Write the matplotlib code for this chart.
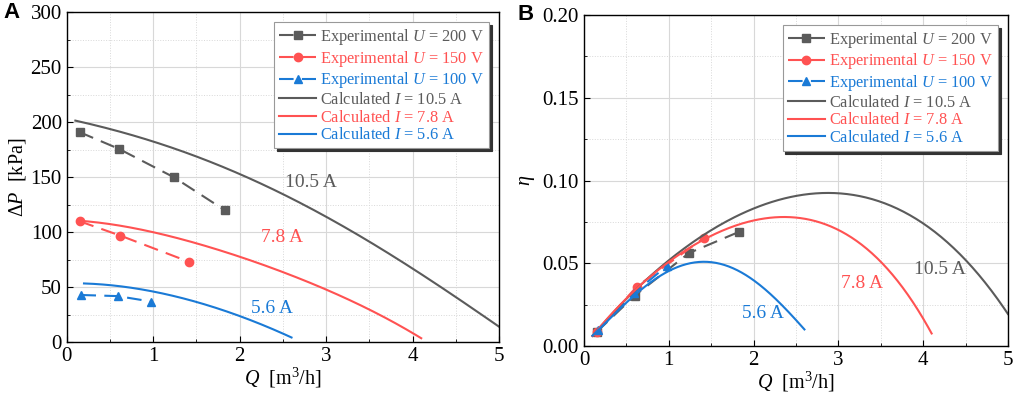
import numpy as np
import matplotlib
matplotlib.use('Agg')
import matplotlib.pyplot as plt
from matplotlib.ticker import MultipleLocator

plt.rcParams['font.family'] = ['Liberation Serif', 'DejaVu Serif']
plt.rcParams['mathtext.fontset'] = 'custom'
plt.rcParams['mathtext.rm'] = 'Liberation Serif'
plt.rcParams['mathtext.it'] = 'Liberation Serif:italic'

GRAY = '#5b5b5b'
RED = '#ff5252'
BLUE = '#1a7ad6'

# experimental points
exp_q_200 = [0.15, 0.60, 1.24, 1.83]
exp_dp_200 = [191, 176, 150, 120]
exp_eta_200 = [0.0085, 0.0305, 0.0562, 0.069]

exp_q_150 = [0.15, 0.62, 1.42]
exp_dp_150 = [110, 97, 73]
exp_eta_150 = [0.0085, 0.0358, 0.0655]

exp_q_100 = [0.17, 0.59, 0.98]
exp_dp_100 = [43, 42, 37]
exp_eta_100 = [0.0095, 0.032, 0.0485]

# calculated curves, pressure
calc_q_105 = [0.1, 0.5, 1.0, 1.5, 2.0, 2.5, 3.0, 3.5, 4.0, 4.5, 5.0]
calc_dp_105 = [202, 193, 182.5, 169.5, 153.5, 134, 114, 91.5, 67, 41.5, 14]
calc_q_78 = [0.15, 0.5, 1.0, 1.5, 2.0, 2.5, 3.0, 3.5, 4.0, 4.1]
calc_dp_78 = [111, 106.5, 100, 91, 78, 63, 47.5, 30.5, 9, 3]
calc_q_56 = [0.2, 0.5, 1.0, 1.5, 2.0, 2.5, 2.6]
calc_dp_56 = [53.5, 52, 46, 37, 23.5, 8.5, 4]

# calculated curves, efficiency
eta_q_105 = [0.1, 0.5, 1.0, 1.5, 2.0, 2.5, 2.85, 3.0, 3.5, 4.0, 4.5, 5.0]
eta_105 = [0.006, 0.029, 0.051, 0.070, 0.0835, 0.0905, 0.0928, 0.0925, 0.0865, 0.0735, 0.053, 0.019]
eta_q_78 = [0.1, 0.5, 1.0, 1.5, 2.0, 2.3, 2.5, 3.0, 3.5, 4.0, 4.1]
eta_78 = [0.006, 0.029, 0.050, 0.067, 0.0765, 0.078, 0.0772, 0.0695, 0.051, 0.0185, 0.006]
eta_q_56 = [0.1, 0.5, 1.0, 1.25, 1.5, 1.75, 2.0, 2.25, 2.5, 2.6]
eta_56 = [0.006, 0.027, 0.0445, 0.049, 0.0515, 0.049, 0.0385, 0.028, 0.017, 0.0095]


def smooth(x, y, n=200):
    xs = np.linspace(x[0], x[-1], n)
    c = np.polyfit(x, y, 4)
    return xs, np.polyval(c, xs)


def style_axes(ax):
    ax.xaxis.set_minor_locator(MultipleLocator(0.5))
    ax.tick_params(which='both', direction='in', labelsize=15, top=False, right=False)
    ax.tick_params(which='major', length=4)
    ax.tick_params(which='minor', length=2.5)
    ax.grid(which='major', color='#d8d8d8', lw=0.8)
    ax.grid(which='minor', color='#d8d8d8', lw=0.7, ls=':')
    ax.set_axisbelow(True)
    for s in ax.spines.values():
        s.set_linewidth(1.0)


fig = plt.figure(figsize=(10.17, 3.94), dpi=100)
axA = fig.add_axes([0.0656, 0.1312, 0.4251, 0.8376])
axB = fig.add_axes([0.5742, 0.1218, 0.4169, 0.8401])

dash = (0, (7, 4))
ms = 5.5

for ax, ye200, ye150, ye100, c105, c78, c56 in [
    (axA, exp_dp_200, exp_dp_150, exp_dp_100,
     (calc_q_105, calc_dp_105), (calc_q_78, calc_dp_78), (calc_q_56, calc_dp_56)),
    (axB, exp_eta_200, exp_eta_150, exp_eta_100,
     (eta_q_105, eta_105), (eta_q_78, eta_78), (eta_q_56, eta_56)),
]:
    ax.plot(exp_q_200, ye200, color=GRAY, ls=dash, lw=1.5, marker='s', ms=ms,
            label=r'Experimental $U$ = 200 V')
    ax.plot(exp_q_150, ye150, color=RED, ls=dash, lw=1.5, marker='o', ms=ms + 0.5,
            label=r'Experimental $U$ = 150 V')
    ax.plot(exp_q_100, ye100, color=BLUE, ls=dash, lw=1.5, marker='^', ms=ms,
            label=r'Experimental $U$ = 100 V')
    for (cq, cy), col, lab in [(c105, GRAY, r'Calculated $I$ = 10.5 A'),
                               (c78, RED, r'Calculated $I$ = 7.8 A'),
                               (c56, BLUE, r'Calculated $I$ = 5.6 A')]:
        xs, ys = smooth(cq, cy)
        ax.plot(xs, ys, color=col, lw=1.5, label=lab)
    style_axes(ax)
    ax.set_xlim(0, 5)
    ax.set_xlabel(r'$Q$  [m$^3$/h]', fontsize=14.5, labelpad=0)
    leg = ax.legend(loc='upper right', fontsize=11.8, frameon=True, fancybox=False,
                    shadow={'color': '#333333', 'alpha': 1}, handlelength=2.3,
                    handletextpad=0.25, labelspacing=0.1, borderpad=0.3,
                    borderaxespad=0.6, edgecolor='#999999')
    leg.get_frame().set_linewidth(0.8)
    for t, col in zip(leg.get_texts(), [GRAY, RED, BLUE, GRAY, RED, BLUE]):
        t.set_color(col)

axA.set_ylim(0, 300)
axA.yaxis.set_major_locator(MultipleLocator(50))
axA.yaxis.set_minor_locator(MultipleLocator(25))
axA.set_ylabel(r'$\Delta P$  [kPa]', fontsize=14.5, labelpad=2)
axA.text(2.82, 145, '10.5 A', color=GRAY, fontsize=14, ha='center', va='center')
axA.text(2.49, 95, '7.8 A', color=RED, fontsize=14, ha='center', va='center')
axA.text(2.37, 31, '5.6 A', color=BLUE, fontsize=14, ha='center', va='center')

axB.set_ylim(0, 0.2)
axB.yaxis.set_major_locator(MultipleLocator(0.05))
axB.yaxis.set_minor_locator(MultipleLocator(0.025))
axB.yaxis.set_major_formatter(matplotlib.ticker.FormatStrFormatter('%.2f'))
axB.set_ylabel(r'$\eta$', fontsize=14.5, labelpad=4)
axB.text(4.2, 0.046, '10.5 A', color=GRAY, fontsize=14, ha='center', va='center')
axB.text(3.28, 0.038, '7.8 A', color=RED, fontsize=14, ha='center', va='center')
axB.text(2.11, 0.0195, '5.6 A', color=BLUE, fontsize=14, ha='center', va='center')

fig.text(0.003, 0.955, 'A', fontsize=16, fontweight='bold', family='Liberation Sans')
fig.text(0.509, 0.95, 'B', fontsize=16, fontweight='bold', family='Liberation Sans')

fig.savefig('out.png', dpi=100)
